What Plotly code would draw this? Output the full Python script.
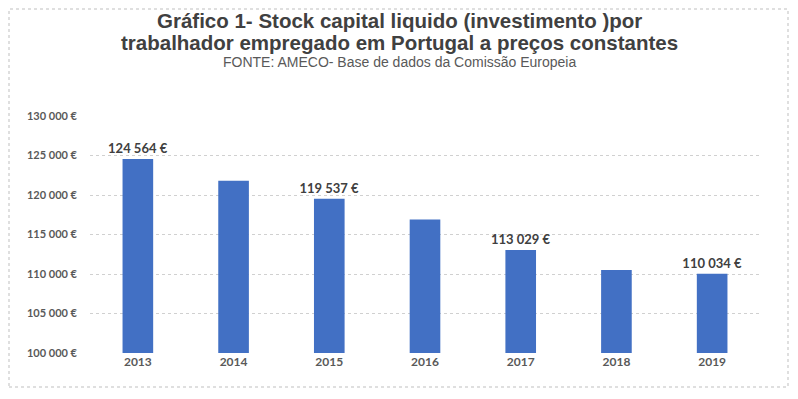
import plotly.graph_objects as go

years = ["2013", "2014", "2015", "2016", "2017", "2018", "2019"]
values = [124564, 121800, 119537, 116900, 113029, 110500, 110034]
labels = ["124 564 €", "", "119 537 €", "", "113 029 €", "", "110 034 €"]
tick_vals = [100000, 105000, 110000, 115000, 120000, 125000, 130000]
tick_text = ["100 000 €", "105 000 €", "110 000 €", "115 000 €", "120 000 €", "125 000 €", "130 000 €"]

W, H = 798, 399
ML, MR, MT, MB = 82, 46, 108, 54
plot_w = W - ML - MR
plot_h = H - MT - MB

def py(y):
    return (H - MB - y) / plot_h

def px(x):
    return (x - ML) / plot_w

fig = go.Figure()
fig.add_trace(go.Bar(
    x=years, y=values, text=labels, textposition="outside", constraintext="none",
    textfont=dict(family="Lato, Liberation Sans, sans-serif", size=13, color="#404040", weight="bold"),
    marker=dict(color="#4270C4", line=dict(width=0)),
    width=0.32, cliponaxis=False, hoverinfo="x+y",
))

title_font = dict(size=20.5, color="#404040", family="Liberation Sans, Arial, sans-serif")
cx = px(391)
fig.update_layout(
    width=W, height=H, autosize=False,
    paper_bgcolor="white", plot_bgcolor="white",
    margin=dict(l=ML, r=MR, t=MT, b=MB),
    showlegend=False,
    font=dict(family="Liberation Sans, Arial, sans-serif"),
    annotations=[
        dict(text="<b>Gráfico 1- Stock capital liquido (investimento )por</b>", x=cx, y=py(12),
             xref="paper", yref="paper", yanchor="middle", showarrow=False, font=title_font),
        dict(text="<b>trabalhador empregado em Portugal a preços constantes</b>", x=cx, y=py(34.5),
             xref="paper", yref="paper", yanchor="middle", showarrow=False, font=title_font),
        dict(text="FONTE: AMECO- Base de dados da Comissão Europeia", x=cx, y=py(53.5),
             xref="paper", yref="paper", yanchor="middle", showarrow=False,
             font=dict(size=14, color="#595959", family="Liberation Sans, Arial, sans-serif")),
    ],
)

fig.update_yaxes(
    range=[100000, 130000], tickvals=tick_vals, ticktext=tick_text,
    showgrid=True, gridcolor="#D0D0D0", griddash="dot", gridwidth=1,
    zeroline=False, showline=False, ticks="", ticklabelstandoff=12,
    tickfont=dict(family="Lato, Liberation Sans, sans-serif", size=11, color="#595959", weight="bold"),
)
fig.update_xaxes(
    showline=False, ticks="", showgrid=False,
    tickfont=dict(family="Lato, Liberation Sans, sans-serif", size=12, color="#595959", weight="bold"),
)

fig.add_shape(type="rect", xref="paper", yref="paper",
              x0=px(1), x1=px(780), y0=py(379), y1=py(1),
              line=dict(color="#BFBFBF", width=1, dash="dot"))

fig.write_html("out.html")
